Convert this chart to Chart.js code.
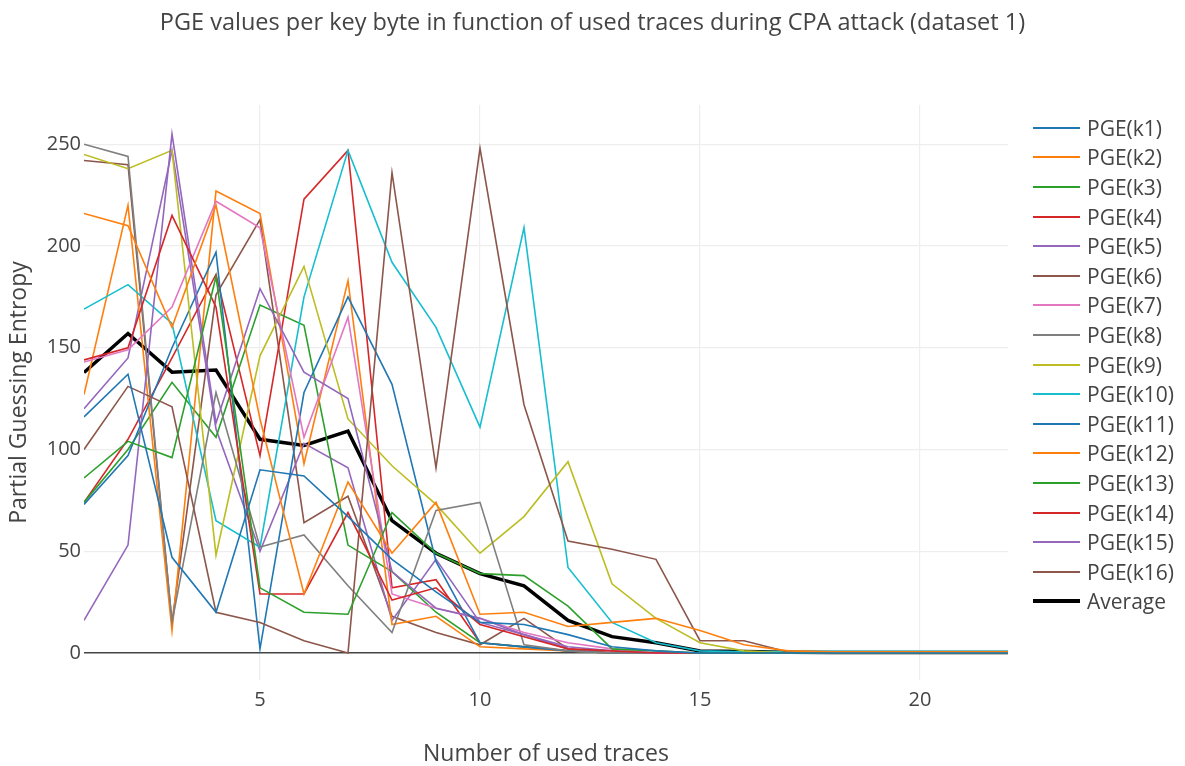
<!DOCTYPE html>
<html>
<head>
<meta charset="utf-8">
<script src="https://cdn.jsdelivr.net/npm/chart.js@4/dist/chart.umd.min.js"></script>
<style>
  body { margin: 0; background: #fff; font-family: "Open Sans", sans-serif; color: #444; }
  #wrap { position: relative; width: 1185px; height: 766px; }
  #title { position: absolute; left: 0; width: 1185px; top: 5px; text-align: center; font-size: 23.5px; line-height: 32px; }
  #legend { position: absolute; left: 1033px; top: 113px; }
  #legend div { height: 29.6px; display: flex; align-items: center; font-size: 21px; white-space: nowrap; }
  #legend span.ln { display: inline-block; width: 47px; margin-right: 7px; }
</style>
</head>
<body>
<div id="wrap">
  <canvas id="pge" width="1185" height="766"></canvas>
  <div id="title">PGE values per key byte in function of used traces during CPA attack (dataset 1)</div>
  <div id="legend"></div>
</div>
<script>
// number of traces used for the attack
const traces = [1, 2, 3, 4, 5, 6, 7, 8, 9, 10, 11, 12, 13, 14, 15, 16, 17, 18, 19, 20, 21, 22];

// partial guessing entropy per key byte
const k1  = [116, 137, 47, 20, 90, 87, 67, 46, 30, 15, 14, 9, 3, 1, 0, 0, 0, 0, 0, 0, 0, 0];
const k2  = [216, 210, 160, 220, 115, 29, 84, 49, 74, 19, 20, 13, 15, 17, 11, 4, 1, 0.5, 0.5, 0.5, 0.5, 0.5];
const k3  = [86, 104, 96, 185, 32, 20, 19, 69, 49, 39, 38, 23, 2, 1, 0, 0, 0, 0, 0, 0, 0, 0];
const k4  = [144, 150, 215, 170, 29, 29, 69, 26, 32, 14, 8, 2, 1, 0, 0, 0, 0, 0, 0, 0, 0, 0];
const k5  = [16, 53, 255, 113, 179, 138, 125, 40, 22, 17, 9, 3, 1, 0, 0, 0, 0, 0, 0, 0, 0, 0];
const k6  = [100, 131, 121, 20, 15, 6, 0, 236, 91, 248, 122, 55, 51, 46, 6, 6, 0.5, 0, 0, 0, 0, 0];
const k7  = [143, 149, 170, 222, 209, 106, 165, 29, 22, 17, 10, 5, 2, 0, 0, 0, 0, 0, 0, 0, 0, 0];
const k8  = [250, 244, 15, 128, 52, 58, 33, 10, 70, 74, 4, 1, 0, 0, 0, 0, 0, 0, 0, 0, 0, 0];
const k9  = [245, 238, 247, 48, 146, 190, 115, 92, 73, 49, 67, 94, 34, 17, 5, 1, 0, 0, 0, 0, 0, 0];
const k10 = [169, 181, 162, 65, 52, 175, 247, 192, 160, 111, 209, 42, 15, 5, 1, 0.5, 0.8, 0.8, 0.8, 0.8, 0.8, 0.8];
const k11 = [73, 97, 150, 197, 2, 128, 175, 132, 45, 5, 3, 1, 0, 0, 0, 0, 0, 0, 0, 0, 0, 0];
const k12 = [127, 220, 11, 227, 216, 93, 183, 14, 18, 3, 2, 1, 0, 0, 0, 0, 0, 0, 0, 0, 0, 0];
const k13 = [74, 100, 133, 106, 171, 161, 53, 40, 20, 5, 3, 1, 0, 0, 0, 0, 0, 0, 0, 0, 0, 0];
const k14 = [74, 105, 145, 186, 97, 223, 247, 32, 36, 5, 3, 1, 0, 0, 0, 0, 0, 0, 0, 0, 0, 0];
const k15 = [120, 145, 247, 110, 50, 103, 91, 16, 46, 15, 9, 2, 0, 0, 0, 0, 0, 0, 0, 0, 0, 0];
const k16 = [242, 240, 15, 176, 213, 64, 77, 18, 10, 4, 17, 2, 0, 0, 0, 0, 0, 0, 0, 0, 0, 0];
const average = [137.8, 157, 138, 139, 105, 102, 109, 65, 49, 39, 33, 16, 8, 5, 1, 0.7, 0.3, 0.2, 0.2, 0.2, 0.2, 0.2];

const keyBytes = [k1, k2, k3, k4, k5, k6, k7, k8, k9, k10, k11, k12, k13, k14, k15, k16];
const palette = ['#1f77b4', '#ff7f0e', '#2ca02c', '#d62728', '#9467bd',
                 '#8c564b', '#e377c2', '#7f7f7f', '#bcbd22', '#17becf'];

const datasets = keyBytes.map((values, i) => ({
  label: 'PGE(k' + (i + 1) + ')',
  data: values,
  borderColor: palette[i % palette.length],
  backgroundColor: palette[i % palette.length],
  borderWidth: 1.6,
}));
datasets.push({
  label: 'Average',
  data: average,
  borderColor: '#000',
  backgroundColor: '#000',
  borderWidth: 3.5,
});

// legend as plain html rows
const legend = document.getElementById('legend');
datasets.forEach(ds => {
  const row = document.createElement('div');
  const ln = document.createElement('span');
  ln.className = 'ln';
  ln.style.borderTop = (ds.label === 'Average' ? 4 : 2) + 'px solid ' + ds.borderColor;
  row.appendChild(ln);
  row.appendChild(document.createTextNode(ds.label));
  legend.appendChild(row);
});

const font = { family: '"Open Sans", sans-serif', size: 20 };

new Chart(document.getElementById('pge'), {
  type: 'line',
  data: { labels: traces, datasets: datasets },
  options: {
    responsive: false,
    animation: false,
    devicePixelRatio: 1,
    layout: { padding: { left: 0, right: 177, top: 105, bottom: 0 } },
    elements: {
      point: { radius: 0, hoverRadius: 0 },
      line: { tension: 0 },
    },
    plugins: {
      legend: { display: false },
      tooltip: { enabled: false },
    },
    scales: {
      x: {
        type: 'linear',
        min: 1,
        max: 22,
        afterBuildTicks: s => { s.ticks = [5, 10, 15, 20].map(v => ({ value: v })); },
        afterFit: s => { s.height = 86; },
        grid: { color: '#eee', lineWidth: 1.2, drawTicks: false },
        border: { display: false },
        ticks: { color: '#444', font: font, padding: 8, maxRotation: 0 },
        title: {
          display: true,
          text: 'Number of used traces',
          color: '#444',
          font: { family: '"Open Sans", sans-serif', size: 23, lineHeight: 1 },
          padding: { top: 0, bottom: 0 },
        },
      },
      y: {
        min: -13.3,
        max: 269.3,
        afterBuildTicks: s => { s.ticks = [0, 50, 100, 150, 200, 250].map(v => ({ value: v })); },
        afterFit: s => { s.width = 84; },
        grid: {
          color: c => (c.tick && c.tick.value === 0 ? '#444' : '#eee'),
          lineWidth: c => (c.tick && c.tick.value === 0 ? 1.6 : 1.2),
          drawTicks: false,
        },
        border: { display: false },
        ticks: { color: '#444', font: font, padding: 3 },
        title: {
          display: true,
          text: 'Partial Guessing Entropy',
          color: '#444',
          font: { family: '"Open Sans", sans-serif', size: 23, lineHeight: 1 },
          padding: { top: 8, bottom: 0 },
        },
      },
    },
  },
});
</script>
</body>
</html>
